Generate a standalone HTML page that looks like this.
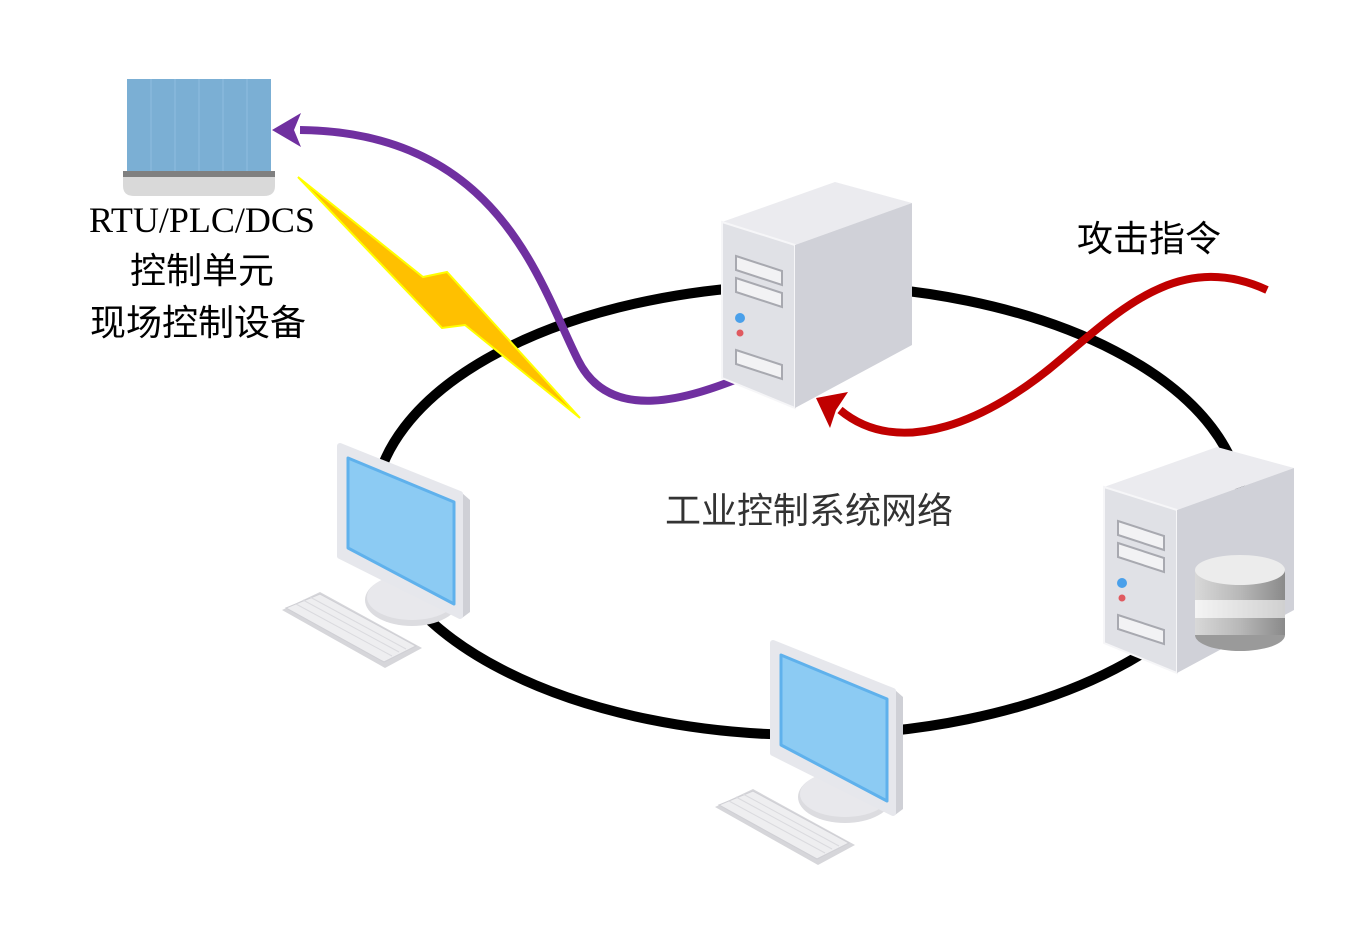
<!DOCTYPE html>
<html><head><meta charset="utf-8"><style>
html,body{margin:0;padding:0;background:#fff;}
svg{display:block;}
text{font-family:"Liberation Serif","Noto Sans CJK SC",serif;}
</style></head><body>
<svg width="1368" height="944" viewBox="0 0 1368 944" xmlns="http://www.w3.org/2000/svg">
<defs>
<linearGradient id="cyl" x1="0" x2="1"><stop offset="0" stop-color="#d8d8d8"/><stop offset="0.5" stop-color="#b8b8b8"/><stop offset="1" stop-color="#8a8a8a"/></linearGradient>
<linearGradient id="cyl2" x1="0" x2="1"><stop offset="0" stop-color="#f4f4f4"/><stop offset="1" stop-color="#d0d0d0"/></linearGradient>
<g id="mon">
  <polygon points="282,610 320,592 422,648 385,668" fill="#d6d6da"/>
  <polygon points="286,608 320,594 416,646 384,662" fill="#eeeef0" stroke="#cfcfd4" stroke-width="1"/>
  <g stroke="#dadade" stroke-width="1">
    <line x1="296" y1="604" x2="392" y2="656"/><line x1="303" y1="600" x2="399" y2="652"/><line x1="310" y1="597" x2="406" y2="649"/>
  </g>
  <ellipse cx="412" cy="600" rx="47" ry="26" fill="#dcdce0"/>
  <ellipse cx="412" cy="597" rx="45" ry="23" fill="#e8e8ec"/>
  <polygon points="342,447 462,493 470,500 470,612 462,618 342,556" fill="#cfd0d6"/>
  <polygon points="340,446 460,494 460,616 340,556" fill="#e6e7ec" stroke="#e6e7ec" stroke-width="6" stroke-linejoin="round"/>
  <polygon points="348,458 454,502 454,604 348,548" fill="#8ccbf3" stroke="#5fb1ec" stroke-width="3" stroke-linejoin="round"/>
</g>
<g id="srv">
  <polygon points="722,222 835,182 912,203 795,245" fill="#ebebef"/>
  <polygon points="722,222 795,245 795,408 722,378" fill="#e0e1e6" stroke="#f6f6f8" stroke-width="2"/>
  <polygon points="795,245 912,203 912,345 795,408" fill="#d0d1d8"/>
  <polygon points="736,256 782,271 782,285 736,270" fill="#f2f2f4" stroke="#a8a9b0" stroke-width="2"/>
  <polygon points="736,278 782,293 782,307 736,292" fill="#f2f2f4" stroke="#a8a9b0" stroke-width="2"/>
  <polygon points="736,350 782,365 782,379 736,364" fill="#f2f2f4" stroke="#a8a9b0" stroke-width="2"/>
  <circle cx="740" cy="318" r="5" fill="#4aa0ea"/>
  <circle cx="740" cy="333" r="3.5" fill="#e05a60"/>
</g>
</defs>

<ellipse cx="808" cy="510" rx="434" ry="225" fill="none" stroke="#000" stroke-width="10"/>

<rect x="127" y="79" width="144" height="93" fill="#7bafd4"/>
<g stroke="#8fbde0" stroke-width="1"><line x1="151" y1="79" x2="151" y2="172"/><line x1="175" y1="79" x2="175" y2="172"/><line x1="199" y1="79" x2="199" y2="172"/><line x1="223" y1="79" x2="223" y2="172"/><line x1="247" y1="79" x2="247" y2="172"/></g>
<rect x="123" y="171" width="152" height="6" fill="#808080"/>
<path d="M123,177 H275 V186 Q275,196 264,196 H134 Q123,196 123,186 Z" fill="#d9d9d9"/>

<polygon points="298,177 423,277 447,272 580,418 465,325 442,328" fill="#ffc000" stroke="#ffff00" stroke-width="2"/>

<path d="M745,376 C690,398 610,425 578,360 C540,285 500,132 300,130" fill="none" stroke="#7030a0" stroke-width="8"/>
<polygon points="272,130 301,113 294,130 301,147" fill="#7030a0"/>

<use href="#srv"/>
<use href="#srv" transform="translate(382,265)"/>
<rect x="1195" y="570" width="90" height="65" fill="url(#cyl)"/>
<rect x="1195" y="600" width="90" height="18" fill="url(#cyl2)"/>
<ellipse cx="1240" cy="635" rx="45" ry="16" fill="#9a9a9a"/>
<rect x="1195" y="618" width="90" height="17" fill="url(#cyl)"/>
<ellipse cx="1240" cy="570" rx="45" ry="15" fill="#ececec"/>

<path d="M1267,290 C1180,250 1120,310 1060,360 C990,420 900,460 840,410" fill="none" stroke="#c00000" stroke-width="8"/>
<polygon points="816,398 848,392 836,410 830,428" fill="#c00000"/>

<use href="#mon"/>
<use href="#mon" transform="translate(433,197)"/>

<g font-size="36" fill="#000" text-anchor="middle">
<text x="202" y="232">RTU/PLC/DCS</text>
<text x="202" y="283">控制单元</text>
<text x="198" y="335">现场控制设备</text>
</g>
<text x="1077" y="251" font-size="36">攻击指令</text>
<text x="665" y="523" font-size="36" fill="#333">工业控制系统网络</text>
</svg>
</body></html>
